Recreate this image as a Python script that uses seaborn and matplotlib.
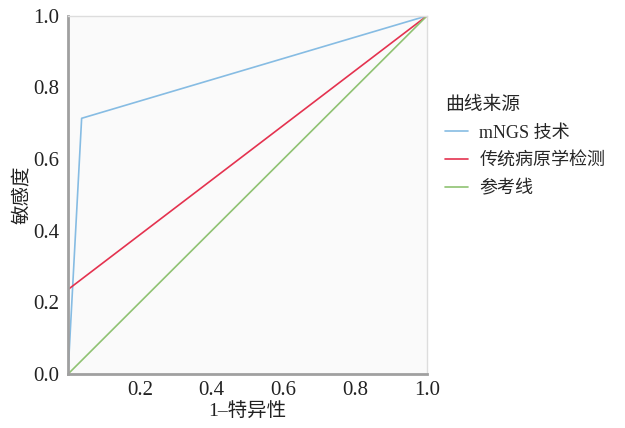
import matplotlib
matplotlib.use("Agg")
import matplotlib.pyplot as plt
import seaborn as sns
import pandas as pd

# Data
series_names = ["mNGS 技术", "传统病原学检测", "参考线"]
mngs_fpr = [0.0, 0.038, 1.0]
mngs_tpr = [0.0, 0.714, 1.0]
trad_fpr = [0.0, 0.0, 1.0]
trad_tpr = [0.0, 0.236, 1.0]
ref_fpr = [0.0, 1.0]
ref_tpr = [0.0, 1.0]
x_ticks = [0.2, 0.4, 0.6, 0.8, 1.0]
y_ticks = [0.0, 0.2, 0.4, 0.6, 0.8, 1.0]

rows = []
for name, xs, ys in zip(series_names, [mngs_fpr, trad_fpr, ref_fpr], [mngs_tpr, trad_tpr, ref_tpr]):
    for i, (x, y) in enumerate(zip(xs, ys)):
        rows.append({"fpr": x, "tpr": y, "series": name, "order": i})
df = pd.DataFrame(rows)

sns.set_theme(style="white")
fam = ["Liberation Serif", "Noto Sans CJK SC"]
plt.rcParams["font.family"] = fam

fig = plt.figure(figsize=(6.25, 4.28), dpi=100)
ax = fig.add_axes([0.1088, 0.126, 0.5744, 0.837])
ax.set_facecolor("#fafafa")

palette = {"mNGS 技术": "#86bce3", "传统病原学检测": "#e4324f", "参考线": "#8fc272"}
sns.lineplot(data=df, x="fpr", y="tpr", hue="series", hue_order=series_names,
             palette=palette, sort=False, estimator=None, units="series",
             linewidth=1.2, ax=ax, legend=True)

ax.set_xlim(0, 1)
ax.set_ylim(0, 1)
ax.set_xticks(x_ticks)
ax.set_yticks(y_ticks)
ax.set_xticklabels([f"{t:.1f}" for t in x_ticks])
ax.set_yticklabels([f"{t:.1f}" for t in y_ticks])
ax.tick_params(axis="x", direction="in", length=5, labelsize=15, pad=5,
               colors="#888888", labelcolor="#222222")
ax.tick_params(axis="y", direction="out", length=4, labelsize=15, pad=2,
               colors="#888888", labelcolor="#222222")

for s in ["left", "bottom"]:
    ax.spines[s].set_color("#a0a0a0")
    ax.spines[s].set_linewidth(2)
for s in ["top", "right"]:
    ax.spines[s].set_color("#dddddd")
    ax.spines[s].set_linewidth(1)

ax.set_xlabel("1–特异性", fontsize=14, color="#222222", labelpad=2)
ax.set_ylabel("敏感度", fontsize=14, color="#222222", labelpad=2)

leg = ax.legend(title="曲线来源", loc="upper left", bbox_to_anchor=(1.05, 0.775),
                frameon=False, fontsize=13, title_fontsize=13.5,
                borderpad=0, borderaxespad=0,
                handlelength=1.3, handletextpad=0.6, labelspacing=0.6)
leg._legend_box.align = "left"

fig.savefig("out.png", dpi=100)
